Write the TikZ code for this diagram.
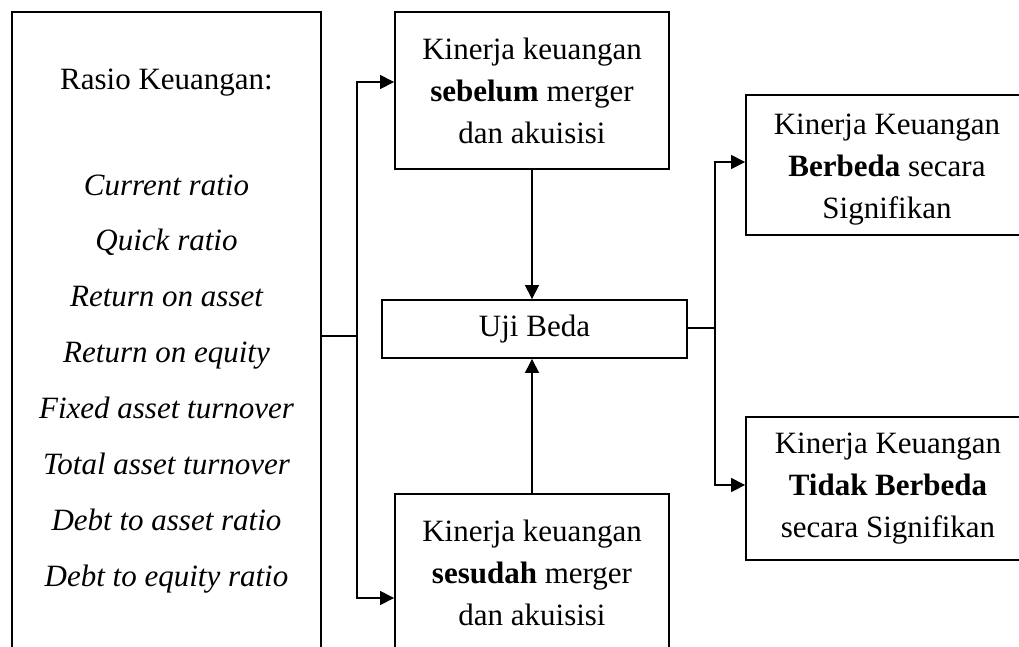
\documentclass[tikz,border=0pt]{standalone}
\usepackage{fontspec}
\setmainfont{Liberation Serif}
\usetikzlibrary{arrows.meta}
\begin{document}
\begin{tikzpicture}[x=1pt,y={(0,-1pt)},
  box/.style={draw,line width=1.8pt,inner sep=0pt,align=center,
    font=\fontsize{31}{42}\selectfont},
  plain/.style={inner sep=0pt,align=center,font=\fontsize{31}{42}\selectfont},
  txt/.style={inner sep=0pt,text height=0.7em,text depth=0.25em,
    font=\fontsize{31}{37}\selectfont\itshape},
  conn/.style={line width=1.1pt},
  arr/.style={conn,-{Triangle[length=14pt,width=14pt]}}]
\useasboundingbox (0,0) rectangle (1019,646);
% boxes
\node[box,minimum width=309pt,minimum height=650pt] (rasio) at (166.5,337) {};
\node[plain,text height=0.7em,text depth=0.25em] (rk) at (166.5,87) {Rasio Keuangan:};
\node[txt] (r1) at (166.5,193) {Current ratio};
\node[txt] (r2) at (166.5,248) {Quick ratio};
\node[txt] (r3) at (166.5,304) {Return on asset};
\node[txt] (r4) at (166.5,360) {Return on equity};
\node[txt] (r5) at (166.5,416) {Fixed asset turnover};
\node[txt] (r6) at (166.5,472) {Total asset turnover};
\node[txt] (r7) at (166.5,528) {Debt to asset ratio};
\node[txt] (r8) at (166.5,584) {Debt to equity ratio};
\node[box,minimum width=274pt,minimum height=157pt] (sebelum) at (532,90.5)
  {Kinerja keuangan\\\textbf{sebelum} merger\\dan akuisisi};
\node[box,minimum width=305pt,minimum height=58pt] (uji) at (534.5,329) {Uji Beda};
\node[box,minimum width=274pt,minimum height=157pt] (sesudah) at (532,572.5)
  {Kinerja keuangan\\\textbf{sesudah} merger\\dan akuisisi};
\node[box,minimum width=284pt,minimum height=140pt] (beda) at (888,165) {};
\node[plain] (bedatxt) at (887,170)
  {Kinerja Keuangan\\\textbf{Berbeda} secara\\Signifikan};
\node[box,minimum width=284pt,minimum height=143pt] (tidak) at (888,488.5)
  {Kinerja Keuangan\\\textbf{Tidak Berbeda}\\secara Signifikan};
% connectors
\coordinate (lj) at (357,336);
\coordinate (rj) at (715,328);
\draw[conn] (rasio.east |- lj) -- (lj);
\draw[arr] (lj) |- (sebelum.west |- 0,82);
\draw[arr] (lj) |- (sesudah.west |- 0,598);
\draw[arr] (sebelum.south -| 532,0) -- (uji.north -| 532,0);
\draw[arr] (sesudah.north -| 532,0) -- (uji.south -| 532,0);
\draw[conn] (uji.east |- rj) -- (rj);
\draw[arr] (rj) |- (beda.west |- 0,162);
\draw[arr] (rj) |- (tidak.west |- 0,485);
\end{tikzpicture}
\end{document}
